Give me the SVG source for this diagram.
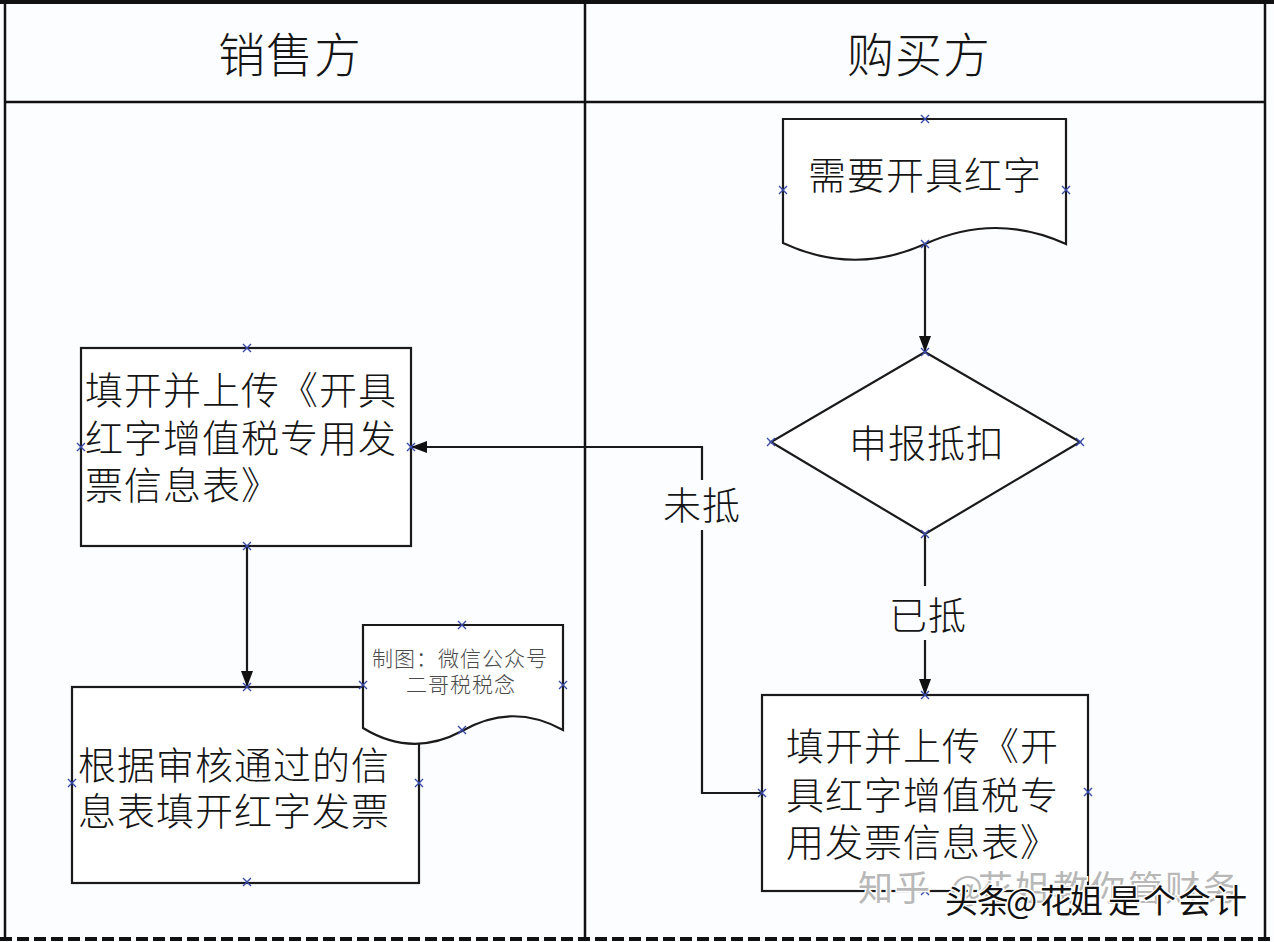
<svg xmlns="http://www.w3.org/2000/svg" xmlns:xlink="http://www.w3.org/1999/xlink" width="1274" height="942" viewBox="0 0 1274 942">
<style>
.t{font-family:"Noto Sans CJK SC","Noto Sans",sans-serif;fill:#151515;dominant-baseline:central;font-weight:300}
.h{font-size:47px;letter-spacing:1px}
.b{font-size:38px;letter-spacing:1px}
.s{font-size:21px;letter-spacing:1px;fill:#4a4a4a}
.shape{fill:#fff;stroke:#1a1a1a;stroke-width:2.2}
.ln{fill:none;stroke:#1a1a1a;stroke-width:2.2}
.fr{fill:none;stroke:#111;stroke-width:2.5}
.xm{fill:none;stroke:#3a4aa8;stroke-width:1.4}
.wm1{font-family:"Noto Sans CJK SC",sans-serif;font-size:35px;fill:#b8b8b8;stroke:#fff;stroke-width:3;paint-order:stroke}
.wm2{font-family:"Noto Sans CJK SC",sans-serif;font-size:33px;fill:#111;stroke:#fff;stroke-width:3;paint-order:stroke}
</style>
<defs>
<marker id="arr" viewBox="0 0 16 12" refX="16" refY="6" markerWidth="16" markerHeight="12" markerUnits="userSpaceOnUse" orient="auto">
<path d="M0,0 L16,6 L0,12 z" fill="#111"/>
</marker>
<path id="xm" class="xm" d="M-4,-4 L4,4 M-4,4 L4,-4"/>
</defs>
<rect x="0" y="0" width="1274" height="942" fill="#fcfdff"/>

<g id="frame">
<line x1="0" y1="2" x2="1274" y2="2" stroke="#111" stroke-width="4"/>
<line class="fr" x1="5" y1="0" x2="5" y2="940"/>
<line class="fr" x1="1265" y1="0" x2="1265" y2="940"/>
<line class="fr" x1="585" y1="0" x2="585" y2="940"/>
<line class="fr" x1="5" y1="102" x2="1265" y2="102"/>
<line x1="0" y1="939" x2="1274" y2="939" stroke="#111" stroke-width="4" stroke-dasharray="12 5"/>
<text class="t h" x="218" y="51">销售方</text>
<text class="t h" x="847" y="51">购买方</text>
</g>

<g id="connectors">
<line class="ln" x1="925" y1="244" x2="925" y2="352" marker-end="url(#arr)"/>
<line class="ln" x1="925" y1="535" x2="925" y2="586"/>
<line class="ln" x1="925" y1="640" x2="925" y2="695" marker-end="url(#arr)"/>
<text class="t b" x="889" y="612">已抵</text>
<polyline class="ln" points="762,793 702,793 702,530"/>
<polyline class="ln" points="702,480 702,447 411,447" marker-end="url(#arr)"/>
<text class="t b" x="663" y="502">未抵</text>
<line class="ln" x1="247" y1="546" x2="247" y2="687" marker-end="url(#arr)"/>
</g>

<g id="n_need">
<path class="shape" d="M783,119 H1066 V244 Q996,212 925,244 Q854,276 783,243 Z"/>
<text class="t b" x="808" y="172">需要开具红字</text>
<use xlink:href="#xm" x="925" y="119"/><use xlink:href="#xm" x="783" y="190"/><use xlink:href="#xm" x="1066" y="190"/><use xlink:href="#xm" x="925" y="244"/>
</g>

<g id="n_decl">
<path class="shape" d="M925,352 L1080,442 L925,534 L771,442 Z"/>
<text class="t b" x="849" y="440">申报抵扣</text>
<use xlink:href="#xm" x="925" y="352"/><use xlink:href="#xm" x="771" y="442"/><use xlink:href="#xm" x="1080" y="442"/><use xlink:href="#xm" x="925" y="534"/>
</g>

<g id="n_buyer_fill">
<rect class="shape" x="762" y="695" width="326" height="196"/>
<text class="t b" x="786" y="743">填开并上传《开<tspan x="786" dy="49">具红字增值税专</tspan><tspan x="786" dy="47">用发票信息表》</tspan></text>
<use xlink:href="#xm" x="925" y="695"/><use xlink:href="#xm" x="762" y="793"/><use xlink:href="#xm" x="1088" y="792"/><use xlink:href="#xm" x="925" y="891"/>
</g>

<g id="n_seller_fill">
<rect class="shape" x="81" y="348" width="330" height="198"/>
<text class="t b" x="85" y="387">填开并上传《开具<tspan x="85" dy="48">红字增值税专用发</tspan><tspan x="85" dy="47">票信息表》</tspan></text>
<use xlink:href="#xm" x="247" y="348"/><use xlink:href="#xm" x="81" y="447"/><use xlink:href="#xm" x="411" y="447"/><use xlink:href="#xm" x="247" y="546"/>
</g>

<g id="n_issue">
<rect class="shape" x="72" y="687" width="347" height="196"/>
<text class="t b" x="78" y="762">根据审核通过的信<tspan x="78" dy="46">息表填开红字发票</tspan></text>
<use xlink:href="#xm" x="247" y="687"/><use xlink:href="#xm" x="72" y="783"/><use xlink:href="#xm" x="419" y="783"/><use xlink:href="#xm" x="247" y="882"/>
</g>

<g id="n_note">
<path class="shape" d="M363,625 H563 V730 Q512,702 462,731 Q412,758 363,728 Z"/>
<text class="t s" x="372" y="657">制图：微信公众号<tspan x="406" dy="26">二哥税税念</tspan></text>
<use xlink:href="#xm" x="462" y="625"/><use xlink:href="#xm" x="363" y="685"/><use xlink:href="#xm" x="563" y="685"/><use xlink:href="#xm" x="462" y="730"/>
</g>

<g id="watermark">
<text class="wm1" y="901" x="858 895 950 978 1015 1053 1090 1128 1165 1203">知乎@花姐教你管财务</text>
<text class="wm2" y="913" x="945 977 1006 1040 1070 1108 1143 1178 1214">头条@花姐是个会计</text>
</g>
</svg>
